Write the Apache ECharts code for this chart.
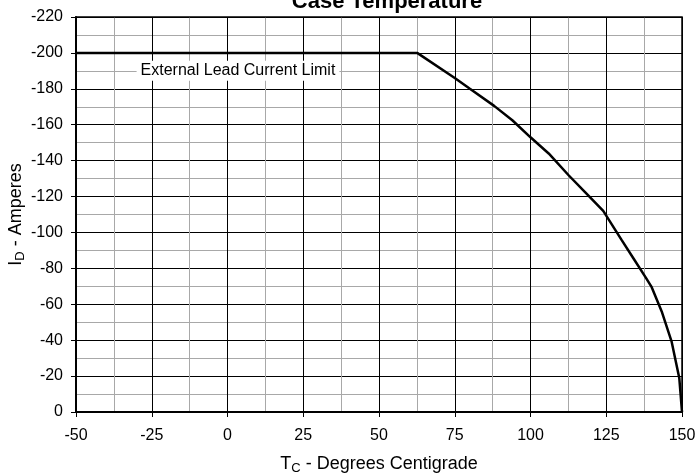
<!DOCTYPE html>
<html>
<head>
<meta charset="utf-8">
<script src="https://cdn.jsdelivr.net/npm/echarts@6/dist/echarts.min.js"></script>
<style>html,body{margin:0;padding:0;background:#fff}#c{width:698px;height:476px}</style>
</head>
<body>
<div id="c"></div>
<script>
const titleText = 'Case Temperature';
const xName = 'T{sub|C} - Degrees Centigrade';
const yName = 'I{sub|D} - Amperes';
const annotation = 'External Lead Current Limit';
const annotationAt = [-30, -190];
const tempC = [-50, 62.6, 75, 80, 88, 94, 100, 106, 112.5, 118, 124, 130, 134, 138, 140, 143.3, 146.6, 149.1, 150];
const currentA = [-200, -200, -186, -180, -170.5, -162.5, -153, -144, -132, -122.5, -112, -96, -85.5, -75, -69.5, -56, -39, -19, 0];

const font = 'Arial, "Liberation Sans", sans-serif';
const chart = echarts.init(document.getElementById('c'));
chart.setOption({
  animation: false,
  title: {
    text: titleText, left: 382, textAlign: 'center', top: -14,
    textStyle: {fontFamily: font, fontSize: 22, fontWeight: 'bold', color: '#000'}
  },
  grid: {left: 76, right: 16, top: 17, bottom: 64, outerBoundsMode: 'none', containLabel: false},
  xAxis: {
    type: 'value', min: -50, max: 150, interval: 25,
    name: xName, nameLocation: 'middle', nameGap: 42, nameMoveOverlap: false,
    nameTextStyle: {fontFamily: font, fontSize: 18, color: '#000',
      rich: {sub: {fontFamily: font, fontSize: 13, color: '#000', verticalAlign: 'bottom', padding: [8, 0, 0, 0]}}},
    axisLine: {show: true, onZero: false, lineStyle: {color: '#000', width: 2}},
    axisTick: {show: true, inside: false, length: 5, lineStyle: {color: '#000'}},
    axisLabel: {fontFamily: font, fontSize: 16, color: '#000', margin: 16},
    splitLine: {show: true, lineStyle: {color: '#000', width: 1}},
    minorTick: {show: false, splitNumber: 2},
    minorSplitLine: {show: true, lineStyle: {color: '#a8a8a8', width: 1}}
  },
  yAxis: {
    type: 'value', min: -220, max: 0, interval: 20, inverse: true,
    name: yName, nameLocation: 'middle', nameGap: 49, nameRotate: 90, nameMoveOverlap: false,
    nameTextStyle: {fontFamily: font, fontSize: 18, color: '#000',
      rich: {sub: {fontFamily: font, fontSize: 13, color: '#000', verticalAlign: 'bottom', padding: [8, 0, 0, 0]}}},
    axisLine: {show: true, onZero: false, lineStyle: {color: '#000', width: 2}},
    axisTick: {show: true, inside: false, length: 5, lineStyle: {color: '#000'}},
    axisLabel: {fontFamily: font, fontSize: 16, color: '#000', margin: 13},
    splitLine: {show: true, lineStyle: {color: '#000', width: 1}},
    minorTick: {show: false, splitNumber: 2},
    minorSplitLine: {show: true, lineStyle: {color: '#a8a8a8', width: 1}}
  },
  series: [{
    type: 'line',
    data: tempC.map((t, i) => [t, currentA[i]]),
    showSymbol: false, symbol: 'none',
    lineStyle: {color: '#000', width: 2.5},
    z: 5,
    markPoint: {
      symbol: 'rect', symbolSize: 0, silent: true,
      data: [{coord: annotationAt}],
      label: {
        show: true, position: 'right', distance: 0,
        formatter: annotation,
        fontFamily: font, fontSize: 16, color: '#000',
        backgroundColor: '#fff', padding: [2, 4, 2, 4]
      }
    }
  }],
  graphic: [{
    type: 'rect', silent: true, z: 10,
    shape: {x: 76, y: 17, width: 606, height: 395},
    style: {fill: 'none', stroke: '#000', lineWidth: 1.5}
  }]
});
</script>
</body>
</html>
